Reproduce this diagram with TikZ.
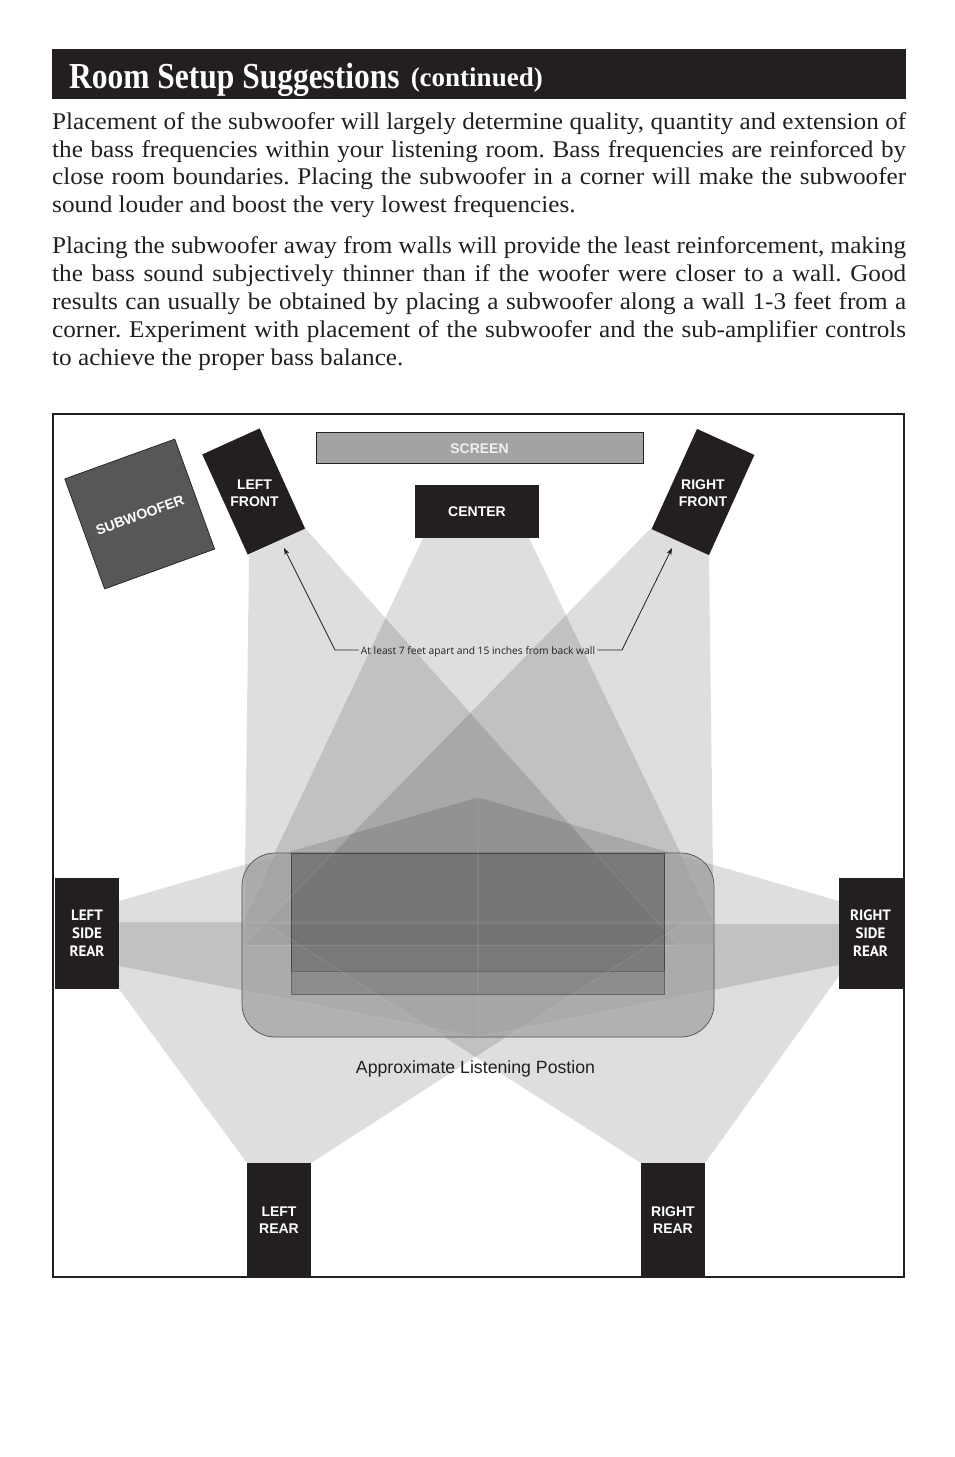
\documentclass[tikz,border=0pt]{standalone}
\usepackage{fontspec}
\usetikzlibrary{arrows.meta}
\setmainfont{Liberation Serif}
\newfontfamily\titlefont[FakeStretch=0.86]{Liberation Serif}
\newfontfamily\bodyfont[FakeStretch=1.05]{Liberation Serif}
\newfontfamily\labelfont{Liberation Sans}
\newfontfamily\sidefont{PT Sans}
\newfontfamily\notefont{Open Sans}
\definecolor{speakerblack}{HTML}{231F20}
\tikzset{
	cone/.style={fill=black, fill opacity=0.13},
	seam/.style={draw=white, draw opacity=0.16, line width=0.5pt},
	spk/.style={fill=speakerblack, text=white, inner sep=0pt, align=center, font=\labelfont\bfseries\fontsize{14}{17}\selectfont},
	sidespk/.style={spk, font=\sidefont\bfseries\fontsize{15}{18}\selectfont, minimum width=64pt, minimum height=111pt},
	rearspk/.style={spk, minimum width=64pt, minimum height=114pt},
	frontspk/.style={fill=speakerblack, inner sep=0pt, minimum width=63pt, minimum height=110pt},
	frontlabel/.style={text=white, inner sep=0pt, align=center, font=\labelfont\bfseries\fontsize{14}{17}\selectfont},
	para/.style={anchor=north west, inner sep=0pt, text width=854pt, align=justify, text=speakerblack, font=\bodyfont\frenchspacing\fontsize{24}{27.9}\selectfont},
	note/.style={inner sep=0pt, text=speakerblack, font=\notefont\fontsize{10.25}{13}\selectfont},
	leader/.style={line width=0.8pt, color=speakerblack, -{Stealth[length=7pt, width=5pt]}}
}
\def\conelf{(249,555) -- (305,528) -- (678,945) -- (244,945)}
\def\conerf{(651,528) -- (709,555) -- (714,945) -- (243,945)}
\def\conec{(423,538) -- (529,538) -- (714,922) -- (242,922)}
\def\conels{(119,901) -- (478,797) -- (478,1037) -- (119,966)}
\def\coners{(839,901) -- (478,797) -- (478,1037) -- (839,965)}
\def\conelr{(247,1163) -- (119,989) -- (119,922) -- (685,922) -- (311,1163)}
\def\conerr{(641,1163) -- (267,924) -- (839,924) -- (839,976) -- (705,1163)}

\begin{document}
\begin{tikzpicture}[x=1pt, y=-1pt]
	%%%%% START %%%%%
	\useasboundingbox (0, 0) rectangle (954, 1457);
	\fill[white] (0, 0) rectangle (954, 1457);

	\fill[speakerblack] (52, 49) rectangle (906, 99);
	\node[anchor=base west, inner sep=0pt, text=white] (title) at (69, 88)
		{\titlefont\bfseries\fontsize{36.6}{40}\selectfont Room Setup Suggestions\hspace{11pt}\raisebox{1.5pt}{\normalfont\bfseries\fontsize{27}{30}\selectfont (continued)}};

	\node[para] (parafirst) at (52, 112) {Placement of the subwoofer will largely determine quality, quantity and extension of\linebreak
		the bass frequencies within your listening room. Bass frequencies are reinforced by\linebreak
		close room boundaries. Placing the subwoofer in a corner will make the subwoofer\linebreak
		sound louder and boost the very lowest frequencies.};
	\node[para] (parasecond) at (52, 236.5) {Placing the subwoofer away from walls will provide the least reinforcement, making\linebreak
		the bass sound subjectively thinner than if the woofer were closer to a wall. Good\linebreak
		results can usually be obtained by placing a subwoofer along a wall 1-3 feet from a\linebreak
		corner. Experiment with placement of the subwoofer and the sub-amplifier controls\linebreak
		to achieve the proper bass balance.};

	\draw[line width=2.6pt, color=speakerblack] (53, 414) rectangle (904, 1277);

	% sound cones
	\fill[cone] \conelf -- cycle;
	\fill[cone] \conerf -- cycle;
	\fill[cone] \conec -- cycle;
	\fill[cone] \conels -- cycle;
	\fill[cone] \coners -- cycle;
	\fill[cone] \conelr -- cycle;
	\fill[cone] \conerr -- cycle;

	% listening area
	\draw[fill=black!35, fill opacity=0.8, draw=black!68, line width=0.7pt, rounded corners=33pt] (242, 853) rectangle (714, 1037);
	\draw[fill=black, fill opacity=0.27, draw=black!72, line width=0.7pt] (291, 853) rectangle (664, 971);
	\draw[fill=black, fill opacity=0.18, draw=black!60, line width=0.7pt] (291, 971) rectangle (664, 994);

	\draw[seam] \conelf -- cycle;
	\draw[seam] \conerf -- cycle;
	\draw[seam] \conec -- cycle;
	\draw[seam] \conels -- cycle;
	\draw[seam] \coners -- cycle;
	\draw[seam] \conelr -- cycle;
	\draw[seam] \conerr -- cycle;

	\node[draw=speakerblack, line width=0.7pt, fill=black!36, minimum width=327pt, minimum height=31pt, inner sep=0pt,
		text=white!94!black, font=\labelfont\bfseries\fontsize{14}{17}\selectfont] (screen) at (479.5, 447.5) {\raisebox{-1pt}[\height][\depth]{SCREEN}};
	\node[draw=speakerblack, line width=0.7pt, fill=black!66, minimum width=117pt, minimum height=117pt, inner sep=0pt, rotate=19.9] (subwoofer) at (139.7, 514) {};
	\node[rotate=19.9, inner sep=0pt, text=white, font=\labelfont\bfseries\fontsize{14}{17}\selectfont] (sublabel) at (140, 515) {SUBWOOFER};

	\node[frontspk, rotate=24.4] (leftfront) at (253.7, 491.5) {};
	\node[frontlabel] (leftfrontlabel) at (254.5, 493) {LEFT\\FRONT};
	\node[frontspk, rotate=-24.4] (rightfront) at (703, 492) {};
	\node[frontlabel] (rightfrontlabel) at (703, 493) {RIGHT\\FRONT};
	\node[spk, minimum width=124pt, minimum height=53pt] (center) at (477, 511.5) {CENTER};

	\node[sidespk] (leftside) at (87, 933.5) {LEFT\\SIDE\\REAR};
	\node[sidespk] (rightside) at (870.5, 933.5) {RIGHT\\SIDE\\REAR};
	\node[rearspk] (leftrear) at (279, 1220) {LEFT\\REAR};
	\node[rearspk] (rightrear) at (673, 1220) {RIGHT\\REAR};

	\node[note] (apart) at (478, 651.5) {At least 7 feet apart and 15 inches from back wall};
	\coordinate (leftbend) at (335, 650);
	\coordinate (lefttip) at (284, 548);
	\coordinate (rightbend) at (622, 650);
	\coordinate (righttip) at (672, 548);
	\draw[leader] (apart.west |- leftbend) ++(-2, 0) -- (leftbend) -- (lefttip);
	\draw[leader] (apart.east |- rightbend) ++(2, 0) -- (rightbend) -- (righttip);

	\node[inner sep=0pt, text=speakerblack, font=\labelfont\fontsize{17.7}{20}\selectfont] (listening) at (475.5, 1069) {Approximate Listening Postion};
	%%%%% END %%%%%
\end{tikzpicture}
\end{document}
